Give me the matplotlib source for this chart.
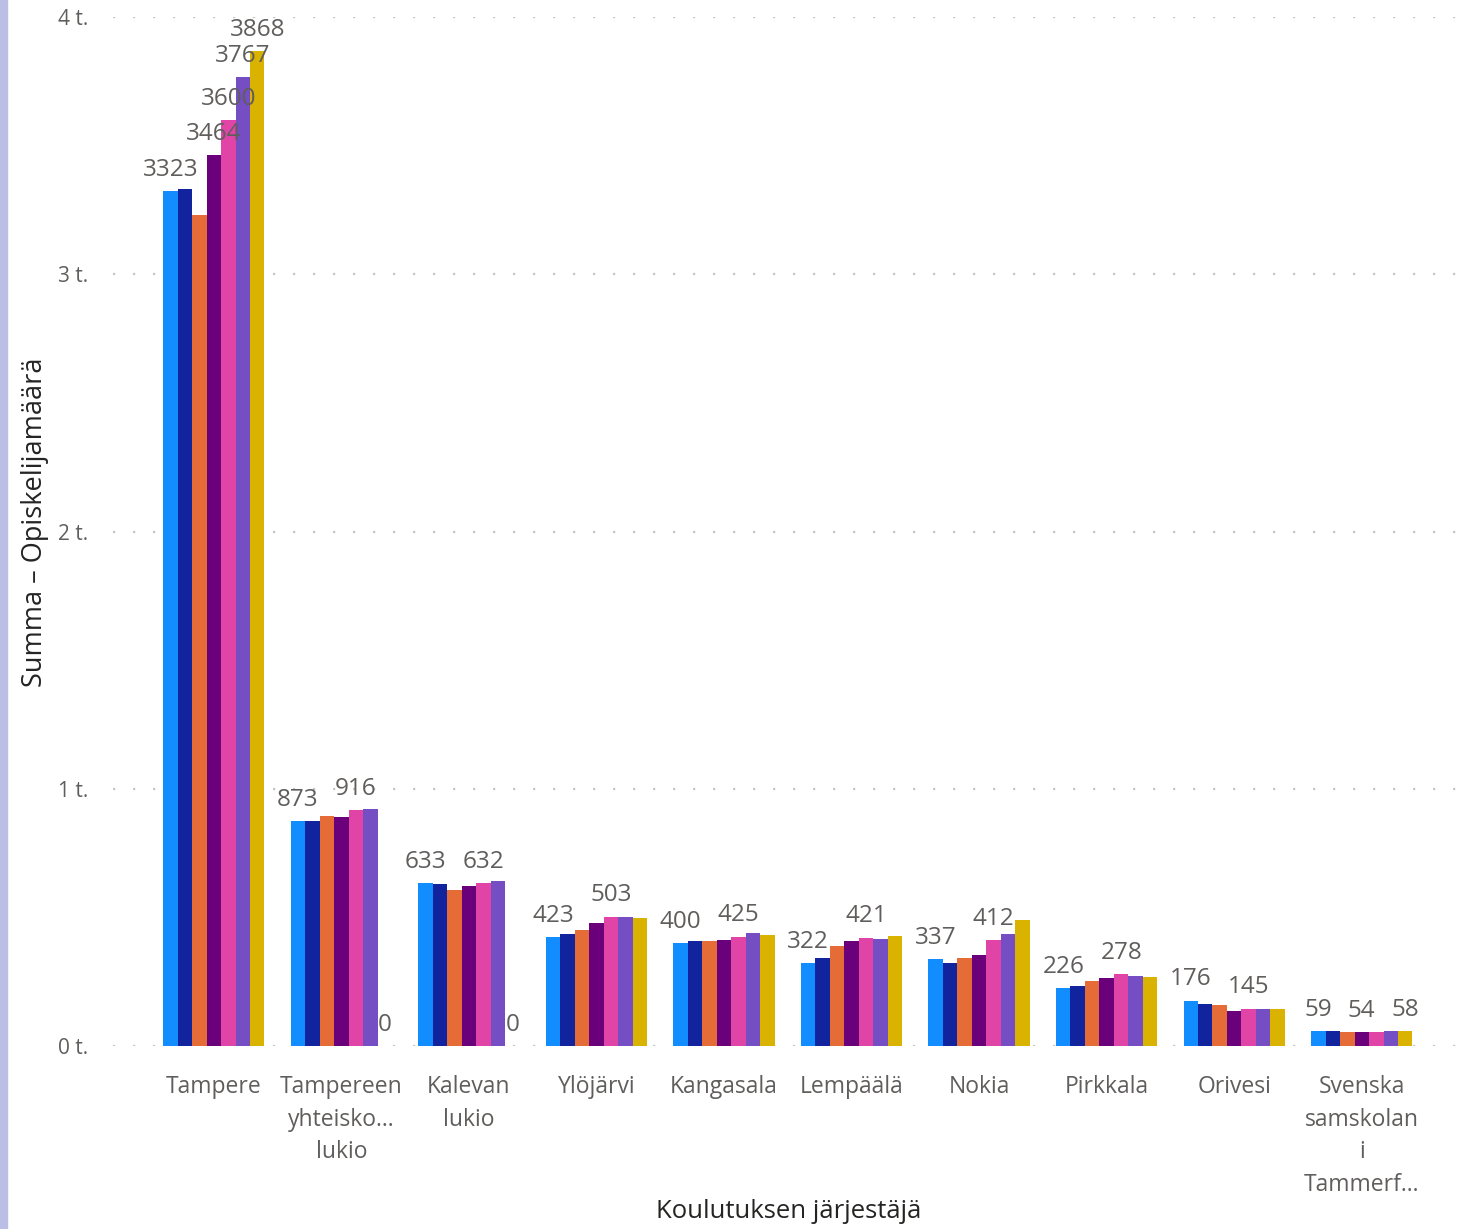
"""Grouped bar chart: students per education provider, seven series."""

import matplotlib

matplotlib.use("Agg")
import matplotlib.pyplot as plt
import numpy as np

categories = [
    "Tampere",
    "Tampereen\nyhteisko...\nlukio",
    "Kalevan\nlukio",
    "Ylöjärvi",
    "Kangasala",
    "Lempäälä",
    "Nokia",
    "Pirkkala",
    "Orivesi",
    "Svenska\nsamskolan\ni\nTammerf...",
]

# one list per series (bar position inside each group)
s1 = [3323, 873, 633, 423, 400, 322, 337, 226, 176, 59]
s2 = [3330, 873, 629, 435, 408, 342, 323, 233, 163, 59]
s3 = [3230, 894, 606, 451, 408, 389, 342, 253, 159, 56]
s4 = [3464, 890, 622, 478, 412, 408, 354, 264, 136, 54]
s5 = [3600, 916, 632, 503, 425, 421, 412, 278, 145, 53]
s6 = [3767, 921, 641, 503, 439, 416, 435, 274, 142, 57]
s7 = [3868, 0, 0, 498, 431, 428, 490, 268, 142, 58]
series = [s1, s2, s3, s4, s5, s6, s7]

# which (series, category) pairs carry a visible data label
shown_labels = [
    (0, 0), (3, 0), (4, 0), (5, 0), (6, 0),
    (0, 1), (4, 1), (6, 1),
    (0, 2), (4, 2), (6, 2),
    (0, 3), (4, 3),
    (0, 4), (4, 4),
    (0, 5), (4, 5),
    (0, 6), (4, 6),
    (0, 7), (4, 7),
    (0, 8), (4, 8),
    (0, 9), (3, 9), (6, 9),
]

yticks = [0, 1000, 2000, 3000, 4000]
ytick_labels = ["0 t.", "1 t.", "2 t.", "3 t.", "4 t."]

COLORS = ["#118DFF", "#12239E", "#E66C37", "#6B007B",
          "#E044A7", "#744EC2", "#D9B300"]
LABEL = "#605E5C"
TITLE = "#252423"
FONT = "Open Sans"

plt.rcParams["font.family"] = [FONT, "DejaVu Sans"]

fig = plt.figure(figsize=(14.7, 12.29), dpi=100)
# lavender strip along the left edge
fig.patches.append(plt.Rectangle((0, 0), 7 / 1470, 1, transform=fig.transFigure,
                                 color="#BBBFE5", zorder=0))
ax = fig.add_axes([113 / 1470, 1 - 1046 / 1229, 1347 / 1470, 1029 / 1229])

x = np.arange(len(categories))
w = 0.1136
for i, vals in enumerate(series):
    ax.bar(x + (i - 3) * w, vals, width=w, color=COLORS[i], linewidth=0,
           zorder=2)

for si, ci in shown_labels:
    v = series[si][ci]
    ax.annotate(str(v), xy=(x[ci] + (si - 3) * w, v), xytext=(0, 11),
                textcoords="offset points", ha="center", va="baseline",
                fontsize=17.5, color=LABEL, zorder=3)

ax.set_xlim(-0.79, 9.77)
ax.set_ylim(0, 4000)
ax.set_yticks(yticks)
ax.set_yticklabels(ytick_labels)
ax.set_xticks(x)
ax.set_xticklabels(categories, linespacing=1.48)
ax.tick_params(axis="x", length=0, pad=21, labelsize=16.5, labelcolor=LABEL)
ax.tick_params(axis="y", length=0, pad=18, labelsize=15, labelcolor=LABEL)

for t in yticks:
    ax.axhline(t, color="#C8C6C4", linewidth=1.6, linestyle=(0, (1, 8)),
               zorder=1)
for s in ax.spines.values():
    s.set_visible(False)

# axis titles placed in figure pixels so the tall tick labels do not push them
fig.text(789 / 1470, 1 - 1212 / 1229, "Koulutuksen järjestäjä",
         ha="center", va="center", fontsize=18.5, color=TITLE)
fig.text(35 / 1470, 1 - 522 / 1229, "Summa – Opiskelijamäärä", rotation=90,
         ha="center", va="center", fontsize=19.5, color=TITLE)

fig.savefig("out.png", dpi=100)
